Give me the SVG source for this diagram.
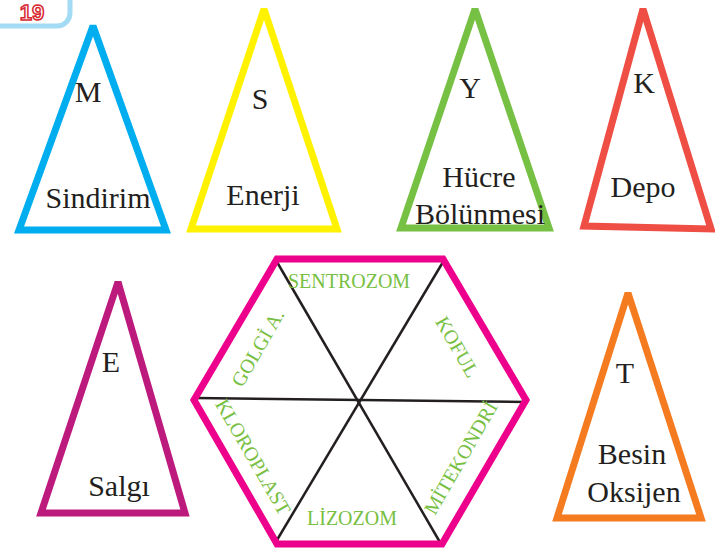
<svg xmlns="http://www.w3.org/2000/svg" width="715" height="555" viewBox="0 0 715 555">
<style>
.tri{fill:none;stroke-width:7;stroke-linejoin:miter;stroke-miterlimit:2.5}
.lbl{font-family:"Liberation Serif","Times New Roman",serif;font-size:30px;fill:#231f20;text-anchor:middle}
.hl{font-family:"Liberation Serif","Times New Roman",serif;font-size:20px;fill:#78c043;text-anchor:middle}
.spoke{stroke:#231f20;stroke-width:2.5;fill:none}
</style>
<rect width="715" height="555" fill="#ffffff"/>
<g id="badge">
<rect x="-20" y="-20" width="90" height="46" rx="13" fill="#ffffff" stroke="#a3dbf5" stroke-width="5"/>
<text x="32" y="20" font-family="'Liberation Sans',Arial,sans-serif" font-weight="bold" font-size="22" text-anchor="middle" fill="#ffffff" stroke="#d7282f" stroke-width="1.5">19</text>
</g>
<g id="node-M">
<polygon class="tri" stroke="#00aeef" points="93,26 19,230 166,230"/>
<text class="lbl" x="88" y="102">M</text>
<text class="lbl" x="98" y="208">Sindirim</text>
</g>
<g id="node-S">
<polygon class="tri" stroke="#fff200" points="264,9 191,229 337,229"/>
<text class="lbl" x="260" y="109">S</text>
<text class="lbl" x="263" y="205">Enerji</text>
</g>
<g id="node-Y">
<polygon class="tri" stroke="#76c043" points="475,9 401,228 549,228"/>
<text class="lbl" x="470" y="98">Y</text>
<text class="lbl" x="479" y="187">Hücre</text>
<text class="lbl" x="480" y="224">Bölünmesi</text>
</g>
<g id="node-K">
<polygon class="tri" stroke="#ef4e45" points="643,9 584,226 711,229"/>
<text class="lbl" x="644" y="93">K</text>
<text class="lbl" x="643" y="197">Depo</text>
</g>
<g id="node-E">
<polygon class="tri" stroke="#bd1a7d" points="118,282 41,513 185,513"/>
<text class="lbl" x="111" y="372">E</text>
<text class="lbl" x="119" y="496">Salgı</text>
</g>
<g id="node-T">
<polygon class="tri" stroke="#f47b20" points="628,293 557,518 701,518"/>
<text class="lbl" x="625" y="383">T</text>
<text class="lbl" x="632" y="464">Besin</text>
<text class="lbl" x="634" y="502">Oksijen</text>
</g>
<g id="connectors">
<line class="spoke" x1="277" y1="262" x2="441" y2="544"/>
<line class="spoke" x1="443" y1="262" x2="277" y2="540"/>
<line class="spoke" x1="195" y1="398" x2="528" y2="402"/>
</g>
<g id="node-hexagon">
<polygon fill="none" stroke="#ec008c" stroke-width="7" stroke-linejoin="miter" points="277,259 443,259 526,400 442,544 277,544 194,400"/>
<text class="hl" x="349" y="288">SENTROZOM</text>
<text class="hl" x="352" y="525">LİZOZOM</text>
<text class="hl" transform="translate(258,348) rotate(-60)" y="6.5">GOLGİ A.</text>
<text class="hl" transform="translate(457,347) rotate(60)" y="6.5">KOFUL</text>
<text class="hl" transform="translate(253,457) rotate(60)" y="6.5">KLOROPLAST</text>
<text class="hl" transform="translate(461,458) rotate(-60)" y="6.5">MİTEKONDRİ</text>
</g>
</svg>
